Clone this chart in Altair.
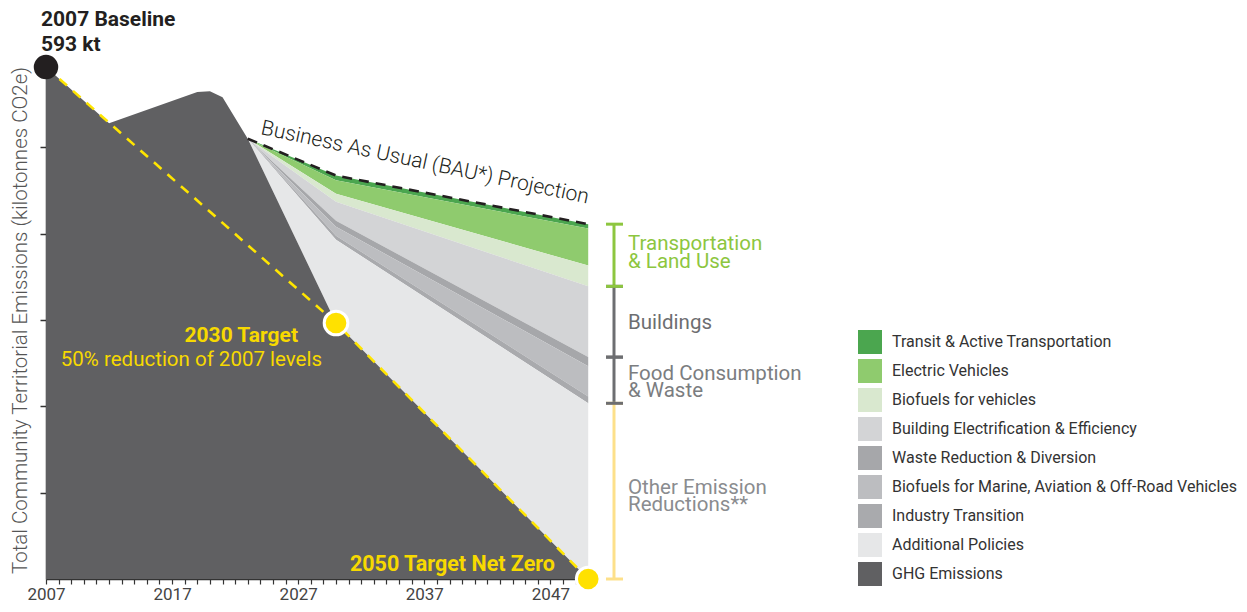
import altair as alt
import pandas as pd

# ---------------- data ----------------
years = [2007, 2012, 2019, 2020, 2021, 2023, 2030, 2050]
ghg_emissions = [593, 528, 564, 565, 558, 510, 296.5, 0]
additional_policies = [0, 0, 0, 0, 0, 0, 96.5, 203.5]
industry_transition = [0, 0, 0, 0, 0, 0, 4.6, 8]
biofuels_marine = [0, 0, 0, 0, 0, 0, 10.4, 35]
waste_reduction = [0, 0, 0, 0, 0, 0, 7, 10.5]
building_electrification = [0, 0, 0, 0, 0, 0, 22, 82]
biofuels_vehicles = [0, 0, 0, 0, 0, 0, 9.2, 24]
electric_vehicles = [0, 0, 0, 0, 0, 0, 15.6, 43]
transit_active = [0, 0, 0, 0, 0, 0, 5.5, 5]

target_years = [2007, 2030, 2050]
target_values = [593, 296.5, 0]

bau_years = [2023, 2030, 2050]

categories = [
    "Transit & Active Transportation",
    "Electric Vehicles",
    "Biofuels for vehicles",
    "Building Electrification & Efficiency",
    "Waste Reduction & Diversion",
    "Biofuels for Marine, Aviation & Off-Road Vehicles",
    "Industry Transition",
    "Additional Policies",
    "GHG Emissions",
]
colors = ["#4ba64f", "#8fcb6e", "#d9e8cf", "#d3d4d6", "#a6a7aa",
          "#bcbdc0", "#a9aaad", "#e6e7e8", "#606062"]
series = [transit_active, electric_vehicles, biofuels_vehicles,
          building_electrification, waste_reduction, biofuels_marine,
          industry_transition, additional_policies, ghg_emissions]

x_ticks = list(range(2007, 2050))
y_ticks = [100, 200, 300, 400, 500]

# ---------------- tables ----------------
rows = []
n = len(categories)
for i, yr in enumerate(years):
    for k, (cat, vals) in enumerate(zip(categories, series)):
        rows.append({"year": yr, "category": cat, "value": vals[i], "order": n - 1 - k})
df = pd.DataFrame(rows)

def total_at(yr):
    i = years.index(yr)
    return sum(s[i] for s in series)

bau_df = pd.DataFrame({"year": bau_years, "value": [total_at(y) for y in bau_years]})
target_df = pd.DataFrame({"year": target_years, "value": target_values})
base_df = pd.DataFrame({"year": [target_years[0]], "value": [target_values[0]]})
tdots_df = pd.DataFrame({"year": target_years[1:], "value": target_values[1:]})

# bracket extents at 2050 (cumulative)
j = years.index(2050)
lvl_other = additional_policies[j]
lvl_food = lvl_other + industry_transition[j] + biofuels_marine[j] + waste_reduction[j]
lvl_build = lvl_food + building_electrification[j]
lvl_top = lvl_build + biofuels_vehicles[j] + electric_vehicles[j] + transit_active[j]
brackets = pd.DataFrame({
    "name": ["Other", "Food", "Buildings", "Transport"],
    "lo": [0, lvl_other, lvl_food, lvl_build],
    "hi": [lvl_other, lvl_food, lvl_build, lvl_top],
    "color": ["#fde08a", "#6d6e71", "#6d6e71", "#8dc63f"],
})

# ---------------- layout ----------------
W, H = 546, 518
OX, OY = 46, 61  # page position of plot origin
PAD_L, PAD_T, PAD_B = OX - 8, OY - 8, 24
PAD_R = 1231 - PAD_L - W

def px(x):
    return x - OX

def py(y):
    return y - OY

xs = alt.Scale(domain=[2007, 2050.3], nice=False, zero=False)
ys = alt.Scale(domain=[0, 600], nice=False)

area = alt.Chart(df).mark_area(interpolate="linear", opacity=1).encode(
    x=alt.X("year:Q", scale=xs, title=None,
            axis=alt.Axis(values=x_ticks, tickCount=100, format="d",
                          labelExpr="(datum.value - 2007) % 10 === 0 ? datum.label : ''",
                          labelOverlap=False, labelFlush=False, grid=False,
                          tickSize=5, tickColor="#333", domainColor="#333",
                          domainWidth=1.5, tickWidth=1.2,
                          labelFontSize=17, labelColor="#444", labelPadding=2,
                          labelFont="Roboto")),
    y=alt.Y("value:Q", stack="zero", scale=ys,
            title="Total Community Territorial Emissions (kilotonnes  CO2e)",
            axis=alt.Axis(values=y_ticks, tickCount=100, labels=False, grid=False,
                          tickSize=6, tickColor="#333", domainColor="#333",
                          domainWidth=1.5, tickWidth=1.5, titleFontSize=20.5,
                          titleFontWeight=300, titleColor="#555", titlePadding=9,
                          titleFont="Roboto")),
    color=alt.Color("category:N",
                    scale=alt.Scale(domain=categories, range=colors),
                    legend=alt.Legend(orient="none", legendX=px(858), legendY=py(330),
                                      title=None, symbolType="square", symbolSize=576,
                                      symbolStrokeWidth=0, symbolOpacity=1,
                                      labelFont="Roboto",
                                      labelFontSize=16, labelColor="#333",
                                      labelOffset=10, rowPadding=5, labelLimit=600,
                                      padding=0)),
    order=alt.Order("order:Q", sort="ascending"),
)

bau_line = alt.Chart(bau_df).mark_line(color="#231f20", strokeDash=[10, 7],
                                        strokeWidth=2.6).encode(
    x=alt.X("year:Q", scale=xs), y=alt.Y("value:Q", scale=ys))

target_line = alt.Chart(target_df).mark_line(color="#ffe500", strokeDash=[10, 8],
                                              strokeWidth=2.6).encode(
    x=alt.X("year:Q", scale=xs), y=alt.Y("value:Q", scale=ys))

base_dot = alt.Chart(base_df).mark_point(filled=True, fill="#231f20", size=600,
                                         opacity=1, strokeWidth=0).encode(
    x=alt.X("year:Q", scale=xs), y=alt.Y("value:Q", scale=ys))

target_dots = alt.Chart(tdots_df).mark_point(filled=True, fill="#ffe100", stroke="white",
                                             strokeWidth=3, size=560, opacity=1).encode(
    x=alt.X("year:Q", scale=xs), y=alt.Y("value:Q", scale=ys))

bracket_v = alt.Chart(brackets).mark_rule(strokeWidth=3).encode(
    x=alt.value(px(614)),
    y=alt.Y("lo:Q", scale=ys), y2="hi:Q",
    color=alt.Color("color:N", scale=None))

cap_rows = []
for _, r in brackets.iterrows():
    cap_rows.append({"v": r["lo"], "color": r["color"]})
    cap_rows.append({"v": r["hi"], "color": r["color"]})
caps_df = pd.DataFrame(cap_rows)
bracket_caps = alt.Chart(caps_df).mark_rule(strokeWidth=3).encode(
    x=alt.value(px(606)), x2=alt.value(px(623)),
    y=alt.Y("v:Q", scale=ys),
    color=alt.Color("color:N", scale=None))

one = pd.DataFrame({"a": [0]})

def label(text, x, y, size, color, weight="normal", align="left",
          baseline="middle", angle=0, line_height=None, font="Roboto"):
    kw = dict(text=text, fontSize=size, color=color, fontWeight=weight, align=align,
              baseline=baseline, font=font)
    if angle:
        kw["angle"] = angle
    if line_height:
        kw["lineHeight"] = line_height
    return alt.Chart(one).mark_text(**kw).encode(x=alt.value(px(x)), y=alt.value(py(y)))

YEL = "#f7d900"
texts = [
    label("2007 Baseline", 41, 20, 21, "#231f20", "bold"),
    label("593 kt", 41, 45, 21, "#231f20", "bold"),
    label("Business As Usual (BAU*) Projection", 425, 163, 21, "#231f20", 300,
          align="center", angle=12),
    label("2030 Target", 298, 336, 21, YEL, "bold", align="right"),
    label("50% reduction of 2007 levels", 322, 360, 20.5, YEL, align="right"),
    label("2050 Target Net Zero", 555, 565, 21.5, YEL, "bold", align="right"),
    label(["Transportation", "& Land Use"], 628, 250, 20.5, "#8dc63f",
          baseline="alphabetic", line_height=17.5),
    label("Buildings", 628, 329, 20.5, "#6d6e71", baseline="alphabetic"),
    label(["Food Consumption", "& Waste"], 628, 380, 20.5, "#7b7d80",
          baseline="alphabetic", line_height=17),
    label(["Other Emission", "Reductions**"], 628, 494, 20.5, "#8a8c8f",
          baseline="alphabetic", line_height=17),
]

chart = alt.layer(area, target_line, bau_line, base_dot, target_dots,
                  bracket_v, bracket_caps, *texts).properties(
    width=W, height=H,
    autosize=alt.AutoSizeParams(type="none"),
    padding={"left": PAD_L, "top": PAD_T, "right": PAD_R, "bottom": PAD_B},
).configure(font="Roboto").configure_view(stroke=None, strokeWidth=0)

chart.save("out.html", embed_options={"renderer": "svg", "actions": False})
